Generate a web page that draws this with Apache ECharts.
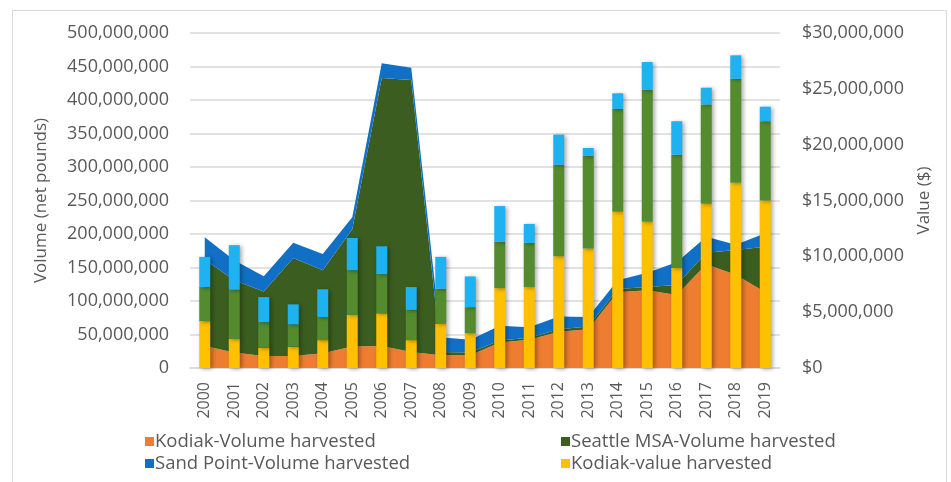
<!DOCTYPE html>
<html>
<head>
<meta charset="utf-8">
<script src="https://cdn.jsdelivr.net/npm/echarts@6/dist/echarts.min.js"></script>
<style>
  html, body { margin: 0; padding: 0; background: #fff; }
  #chart { width: 951px; height: 482px; }
</style>
</head>
<body>
<div id="chart"></div>
<script>
var years = ['2000','2001','2002','2003','2004','2005','2006','2007','2008','2009',
             '2010','2011','2012','2013','2014','2015','2016','2017','2018','2019'];

// volumes, millions of pounds (stacked areas, left axis)
var kodiakVol     = [33, 23, 18, 18, 22, 32, 33, 24, 19, 19, 38, 42, 54, 58, 113, 116, 109, 155, 139, 113];
var seattleVol    = [129, 108, 96, 146, 124, 175, 400, 406, 5, 4, 3, 3, 4, 4, 5, 5, 15, 17, 37, 68];
var sandPointVol  = [33, 30, 23, 23, 24, 18, 22, 18, 22, 19, 22, 16, 19, 14, 13, 21, 34, 24, 8, 20];

// values, millions of dollars (stacked bars, right axis)
var kodiakVal     = [4.2, 2.6, 1.8, 1.9, 2.5, 4.75, 4.9, 2.5, 3.95, 3.1, 7.15, 7.25, 10.0, 10.7, 14.0, 13.1, 8.95, 14.7, 16.6, 15.0];
var seattleVal    = [3.05, 4.4, 2.3, 2.0, 2.05, 4.0, 3.5, 2.7, 3.15, 2.35, 4.15, 3.95, 8.2, 8.3, 9.2, 11.8, 10.15, 8.9, 9.3, 7.1];
var sandPointVal  = [2.7, 4.0, 2.25, 1.8, 2.5, 2.9, 2.5, 2.05, 2.85, 2.75, 3.2, 1.7, 2.7, 0.7, 1.4, 2.5, 3.0, 1.5, 2.1, 1.3];

var M = 1000000;
function scale(arr) { return arr.map(function (v) { return Math.round(v * M); }); }

var txt = '#595959';
var font = 'Open Sans';

var chart = echarts.init(document.getElementById('chart'), null, { renderer: 'canvas' });

function areaSeries(name, data, color) {
    return {
        name: name, type: 'line', stack: 'vol', yAxisIndex: 0,
        data: scale(data), symbol: 'none', smooth: false,
        lineStyle: { width: 0 }, itemStyle: { color: color },
        areaStyle: { color: color, opacity: 1 }, z: 1
    };
}
function barSeries(name, data, color) {
    return {
        name: name, type: 'bar', stack: 'val', yAxisIndex: 1,
        data: scale(data), barWidth: 11,
        itemStyle: { color: color, shadowColor: 'rgba(0,0,0,0.35)', shadowBlur: 4, shadowOffsetX: 2, shadowOffsetY: 1 },
        z: 3
    };
}

var legendText = { fontFamily: font, fontSize: 18.5, color: txt, padding: [0, 0, 0, -4] };

var option = {
    animation: false,
    textStyle: { fontFamily: font, color: txt },
    graphic: [{
        type: 'rect', left: 10, top: 8,
        shape: { width: 934, height: 480 },
        style: { fill: 'none', stroke: '#d9d9d9', lineWidth: 1 }, silent: true
    }],
    grid: { left: 190, right: 171, top: 33, bottom: 114 },
    legend: [{
        orient: 'vertical', left: 140, top: 427, itemGap: 3,
        itemWidth: 9, itemHeight: 9, icon: 'rect', textStyle: legendText,
        data: ['Kodiak-Volume harvested', 'Sand Point-Volume harvested']
    }, {
        orient: 'vertical', left: 556, top: 427, itemGap: 3,
        itemWidth: 9, itemHeight: 9, icon: 'rect', textStyle: legendText,
        data: ['Seattle MSA-Volume harvested', 'Kodiak-value harvested']
    }],
    xAxis: {
        type: 'category', data: years, boundaryGap: true,
        axisLine: { lineStyle: { color: '#d9d9d9', width: 1.5 } },
        axisTick: { show: false },
        axisLabel: { rotate: 90, fontSize: 16, color: txt, fontFamily: font, margin: 14, interval: 0 }
    },
    yAxis: [{
        type: 'value', min: 0, max: 500 * M, interval: 50 * M,
        name: 'Volume (net pounds)', nameLocation: 'middle', nameGap: 140,
        nameTextStyle: { fontSize: 17, color: txt, fontFamily: font },
        axisLine: { show: false }, axisTick: { show: false },
        splitLine: { lineStyle: { color: '#d9d9d9', width: 1.5 } },
        axisLabel: {
            fontSize: 18, color: txt, fontFamily: font, margin: 21,
            formatter: function (v) { return v.toLocaleString('en-US'); }
        }
    }, {
        type: 'value', min: 0, max: 30 * M, interval: 5 * M, position: 'right',
        name: 'Value ($)', nameLocation: 'middle', nameGap: 136,
        nameTextStyle: { fontSize: 17, color: txt, fontFamily: font },
        axisLine: { show: false }, axisTick: { show: false },
        splitLine: { show: false },
        axisLabel: {
            fontSize: 18, color: txt, fontFamily: font, margin: 22,
            formatter: function (v) { return '$' + v.toLocaleString('en-US'); }
        }
    }],
    series: [
        areaSeries('Kodiak-Volume harvested', kodiakVol, '#ee7d31'),
        areaSeries('Seattle MSA-Volume harvested', seattleVol, '#3b5e20'),
        areaSeries('Sand Point-Volume harvested', sandPointVol, '#1170c6'),
        barSeries('Kodiak-value harvested', kodiakVal, '#fec000'),
        barSeries('Seattle MSA-value harvested', seattleVal, '#558b2f'),
        barSeries('Sand Point-value harvested', sandPointVal, '#1fb2f0')
    ]
};

chart.setOption(option);
window.addEventListener('resize', function () { chart.resize(); });
</script>
</body>
</html>
